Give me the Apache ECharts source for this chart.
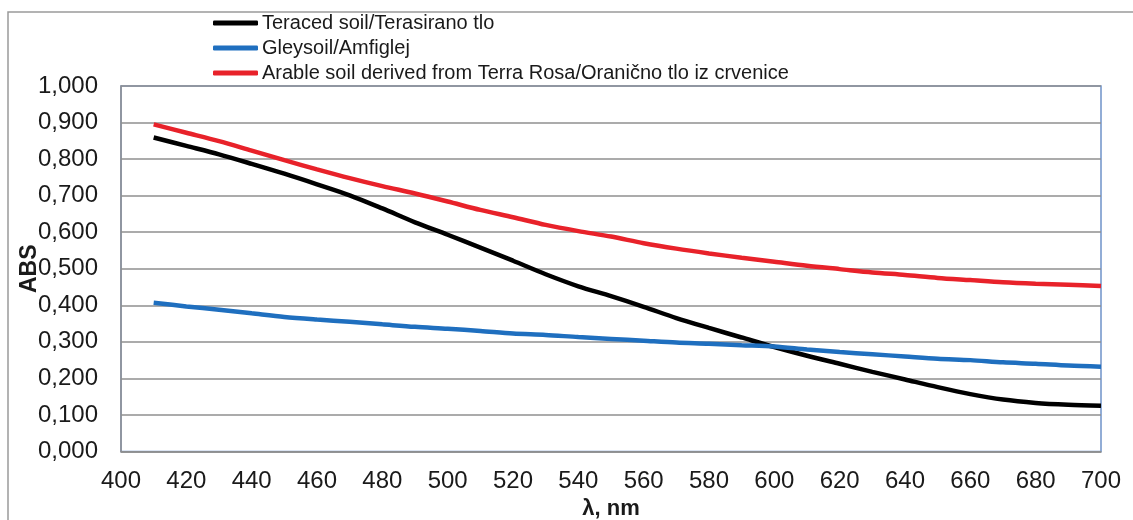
<!DOCTYPE html>
<html>
<head>
<meta charset="utf-8">
<script src="https://cdn.jsdelivr.net/npm/echarts@6/dist/echarts.min.js"></script>
<style>
  html, body { margin: 0; padding: 0; background: #fff; }
  #chart { width: 1133px; height: 520px; }
</style>
</head>
<body>
<div id="chart"></div>
<script>
// wavelength, nm
var wavelengths = [410, 420, 430, 440, 450, 460, 470, 480, 490, 500,
                   510, 520, 530, 540, 550, 560, 570, 580, 590, 600,
                   610, 620, 630, 640, 650, 660, 670, 680, 690, 700];

// Teraced soil/Terasirano tlo
var teraced = [0.859, 0.836, 0.813, 0.787, 0.760, 0.731, 0.701, 0.665, 0.627, 0.593,
               0.558, 0.522, 0.485, 0.452, 0.425, 0.396, 0.365, 0.338, 0.312, 0.286,
               0.262, 0.240, 0.218, 0.197, 0.176, 0.157, 0.142, 0.133, 0.128, 0.125];

// Gleysoil/Amfiglej
var gleysoil = [0.407, 0.397, 0.388, 0.378, 0.368, 0.361, 0.355, 0.348, 0.341, 0.336,
                0.330, 0.323, 0.319, 0.313, 0.308, 0.303, 0.298, 0.295, 0.291, 0.287,
                0.279, 0.272, 0.266, 0.260, 0.254, 0.250, 0.244, 0.240, 0.235, 0.232];

// Arable soil derived from Terra Rosa/Oranično tlo iz crvenice
var arable = [0.895, 0.872, 0.849, 0.823, 0.797, 0.772, 0.748, 0.726, 0.706, 0.684,
              0.661, 0.641, 0.620, 0.603, 0.588, 0.570, 0.555, 0.542, 0.530, 0.519,
              0.508, 0.499, 0.490, 0.483, 0.475, 0.469, 0.463, 0.459, 0.456, 0.453];

var seriesNames = ['Teraced soil/Terasirano tlo', 'Gleysoil/Amfiglej',
                   'Arable soil derived from Terra Rosa/Oranično tlo iz crvenice'];
var seriesColors = ['#000000', '#1f6fbf', '#e8222a'];

function pairs(ys) {
    return wavelengths.map(function (x, i) { return [x, ys[i]]; });
}

var myChart = echarts.init(document.getElementById('chart'));
var option = {
    backgroundColor: '#fff',
    animation: false,
    textStyle: { fontFamily: '"Liberation Sans", Arial, sans-serif' },
    graphic: [{
        type: 'rect',
        shape: { x: 8, y: 12, width: 1200, height: 600 },
        style: { fill: 'none', stroke: '#9a9a9a', lineWidth: 1.5 },
        silent: true
    }],
    legend: {
        orient: 'vertical',
        left: 213,
        top: 13,
        padding: 0,
        itemWidth: 45,
        itemHeight: 5,
        itemGap: 5,
        icon: 'roundRect',
        textStyle: { fontSize: 20, color: '#1a1a1a', padding: [0, 0, 0, -1] },
        data: seriesNames
    },
    grid: {
        left: 121,
        right: 32,
        top: 86,
        bottom: 68.5,
        outerBoundsMode: 'none',
        show: true,
        borderColor: '#6f93c9',
        borderWidth: 1.5
    },
    xAxis: {
        type: 'value',
        min: 400,
        max: 700,
        interval: 20,
        name: 'λ, nm',
        nameLocation: 'middle',
        nameGap: 46,
        nameMoveOverlap: false,
        nameTextStyle: { fontSize: 22, fontWeight: 'bold', color: '#1a1a1a' },
        axisLine: { show: true, lineStyle: { color: '#8f8f8f', width: 1.5 } },
        axisTick: { show: false },
        splitLine: { show: false },
        axisLabel: { fontSize: 24, color: '#1a1a1a', margin: 18 }
    },
    yAxis: {
        type: 'value',
        min: 0,
        max: 1,
        interval: 0.1,
        name: 'ABS',
        nameLocation: 'middle',
        nameGap: 80,
        nameRotate: 90,
        nameMoveOverlap: false,
        nameTextStyle: { fontSize: 23, fontWeight: 'bold', color: '#1a1a1a' },
        axisLine: { show: true, lineStyle: { color: '#8f8f8f', width: 1.5 } },
        axisTick: { show: false },
        splitLine: { show: true, lineStyle: { color: '#8f8f8f', width: 1.5 } },
        axisLabel: {
            fontSize: 24,
            color: '#1a1a1a',
            margin: 23,
            formatter: function (v) { return v.toFixed(3).replace('.', ','); }
        }
    },
    series: [teraced, gleysoil, arable].map(function (ys, i) {
        return {
            name: seriesNames[i],
            type: 'line',
            smooth: 0.3,
            symbol: 'none',
            data: pairs(ys),
            itemStyle: { color: seriesColors[i] },
            lineStyle: { color: seriesColors[i], width: 4.5 }
        };
    })
};
myChart.setOption(option);
</script>
</body>
</html>
